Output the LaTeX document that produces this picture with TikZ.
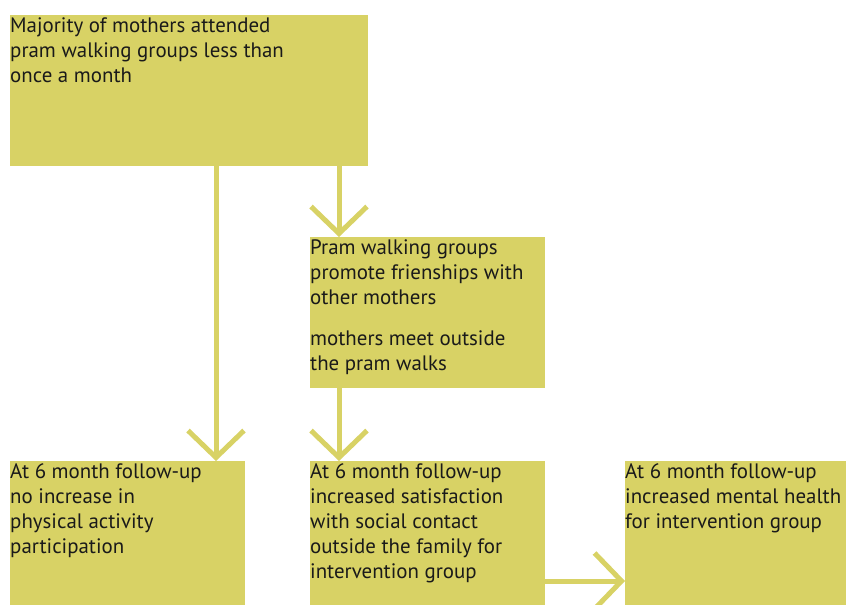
\documentclass[tikz,border=0pt]{standalone}
\usepackage{fontspec}
\setmainfont{PT Sans}
\usetikzlibrary{arrows.meta}
\definecolor{pram}{RGB}{216,210,101}
\definecolor{ink}{RGB}{26,26,26}
\newcommand{\celltext}[3]{\parbox[t][#2][t]{#1}{\raggedright\rule{0pt}{17pt}#3}}

\begin{document}
\begin{tikzpicture}
	[x=1pt,y=-1pt,
	cell/.style={fill=pram,anchor=north west,inner sep=0pt,text=ink,
		font=\fontsize{20.9pt}{25pt}\selectfont},
	flow/.style={draw=pram,line width=5pt,-{Straight Barb[length=27pt,width=56pt]}}]
	\useasboundingbox (0,0) rectangle (846,605);
	\node[cell] (majority) at (10,15) {\celltext{358pt}{151pt}{Majority of mothers attended\\pram walking groups less than\\once a month}};
	\node[cell] (friends) at (310,237) {\celltext{235pt}{151pt}{Pram walking groups\\promote frienships with\\other mothers\\[16pt]mothers meet outside\\the pram walks}};
	\node[cell] (nophys) at (10,461) {\celltext{235pt}{144pt}{At 6 month follow-up\\no increase in\\physical activity\\participation}};
	\node[cell] (satis) at (310,461) {\celltext{235pt}{144pt}{At 6 month follow-up\\increased satisfaction\\with social contact\\outside the family for\\intervention group}};
	\node[cell] (mental) at (625,461) {\celltext{221pt}{144pt}{At 6 month follow-up\\increased mental health\\for intervention group}};
	\draw[flow] ([xshift=206pt]nophys.north west |- majority.south) -- ([xshift=206pt]nophys.north west);
	\draw[flow] ([xshift=29pt]friends.north west |- majority.south) -- ([xshift=29pt]friends.north west);
	\draw[flow] ([xshift=29pt]friends.south west) -- ([xshift=29pt]satis.north west);
	\draw[flow] ([yshift=-120pt]satis.north east) -- ([yshift=-120pt]mental.north west);
\end{tikzpicture}
\end{document}
